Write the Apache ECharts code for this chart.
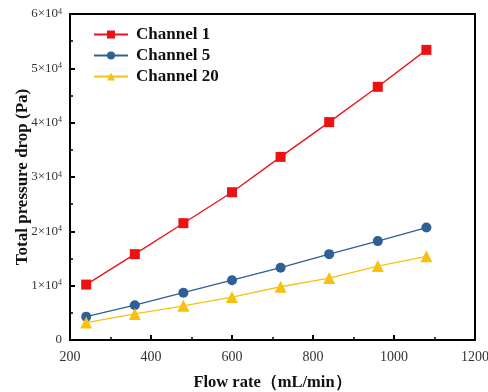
<!DOCTYPE html>
<html>
<head>
<meta charset="utf-8">
<script src="https://cdn.jsdelivr.net/npm/echarts@6/dist/echarts.min.js"></script>
<style>
  html, body { margin: 0; padding: 0; background: #fff; }
  #chart { width: 488px; height: 392px; }
</style>
</head>
<body>
<div id="chart"></div>
<script>
var flowRates = [240, 360, 480, 600, 720, 840, 960, 1080];
var channel1 = [10200, 15800, 21500, 27200, 33700, 40100, 46600, 53400];
var channel5 = [4300, 6400, 8700, 11000, 13300, 15800, 18200, 20700];
var channel20 = [3200, 4800, 6300, 7900, 9800, 11400, 13600, 15400];
var seriesNames = ['Channel 1', 'Channel 5', 'Channel 20'];

var serif = '"Liberation Serif", "Times New Roman", serif';

var pairs = function(ys) {
  return flowRates.map(function(x, i) { return [x, ys[i]]; });
};

var makeSerie = function(name, ys, color, symbol, size) {
  return {
    name: name,
    type: 'line',
    data: pairs(ys),
    symbol: symbol,
    symbolSize: size,
    lineStyle: { color: color, width: 1.3 },
    itemStyle: { color: color },
    z: 3
  };
};

var chart = echarts.init(document.getElementById('chart'));
chart.setOption({
  animation: false,
  backgroundColor: '#fff',
  grid: {
    left: 70, right: 13, top: 14, bottom: 52,
    containLabel: false, outerBoundsMode: 'none',
    show: true, borderColor: '#000', borderWidth: 2
  },
  legend: {
    orient: 'vertical',
    left: 88, top: 21,
    itemWidth: 34, itemHeight: 10, itemGap: 4,
    textStyle: { fontFamily: serif, fontWeight: 'bold', fontSize: 17, color: '#111', padding: [0, 0, 0, 3] },
    data: seriesNames
  },
  xAxis: {
    type: 'value',
    min: 200, max: 1200, interval: 200,
    name: 'Flow rate\uff08mL/min\uff09',
    nameLocation: 'middle', nameGap: 34, nameMoveOverlap: false,
    nameTextStyle: { fontFamily: serif, fontWeight: 'bold', fontSize: 16.5, color: '#111' },
    axisLine: { lineStyle: { color: '#000', width: 2 } },
    axisTick: { inside: true, length: 5, lineStyle: { color: '#000', width: 2 } },
    minorTick: { show: true, splitNumber: 2, length: 3, lineStyle: { color: '#000', width: 1.5 } },
    axisLabel: {
      fontFamily: serif, fontSize: 14, color: '#333', margin: 10,
      formatter: function(v) { return String(v); }
    },
    splitLine: { show: false }
  },
  yAxis: {
    type: 'value',
    min: 0, max: 60000, interval: 10000,
    name: 'Total pressure drop (Pa)',
    nameLocation: 'middle', nameGap: 39, nameMoveOverlap: false,
    nameTextStyle: { fontFamily: serif, fontWeight: 'bold', fontSize: 17, color: '#111' },
    axisLine: { lineStyle: { color: '#000', width: 2 } },
    axisTick: { inside: true, length: 5, lineStyle: { color: '#000', width: 2 } },
    minorTick: { show: true, splitNumber: 2, length: 3, lineStyle: { color: '#000', width: 1.5 } },
    axisLabel: {
      margin: 8,
      formatter: function(v) {
        if (v === 0) return '{b|0}';
        return '{b|' + (v / 10000) + '\u00d710}{s|4}';
      },
      rich: {
        b: { fontFamily: serif, fontSize: 13, color: '#333' },
        s: { fontFamily: serif, fontSize: 8, color: '#333', padding: [0, 0, 5, 0] }
      }
    },
    splitLine: { show: false }
  },
  series: [
    makeSerie(seriesNames[0], channel1, '#ee1111', 'rect', 10),
    makeSerie(seriesNames[1], channel5, '#2e5f95', 'circle', 10),
    makeSerie(seriesNames[2], channel20, '#f7c20f', 'triangle', 12)
  ]
});
</script>
</body>
</html>
